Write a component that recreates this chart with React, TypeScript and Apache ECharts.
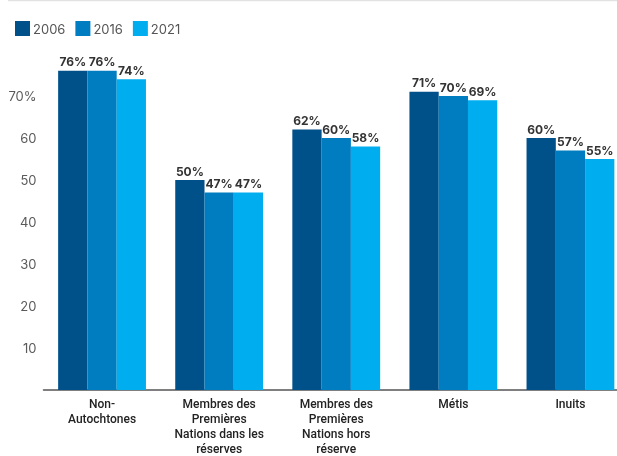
import React, { useEffect, useRef } from "react";
import * as echarts from "echarts";

const categories = [
  "Non-\nAutochtones",
  "Membres des\nPremières\nNations dans les\nréserves",
  "Membres des\nPremières\nNations hors\nréserve",
  "Métis",
  "Inuits",
];
const seriesNames = ["2006", "2016", "2021"];
const values2006 = [76, 50, 62, 71, 60];
const values2016 = [76, 47, 60, 70, 57];
const values2021 = [74, 47, 58, 69, 55];
const colors = ["#00508a", "#007cc0", "#00aeef"];
const yTicks = [0, 10, 20, 30, 40, 50, 60, 70, 80];

export default function App() {
  const ref = useRef<HTMLDivElement>(null);
  useEffect(() => {
    if (!ref.current) return;
    const chart = echarts.init(ref.current, null, { renderer: "svg" });
    const font = "Inter, 'Noto Sans', sans-serif";
    const font2 = "Roboto, 'Noto Sans', sans-serif";
    const data = [values2006, values2016, values2021];
    chart.setOption({
      animation: false,
      textStyle: { fontFamily: font },
      legend: {
        left: 10,
        top: 16,
        itemWidth: 15,
        itemHeight: 15,
        itemGap: 10,
        icon: "rect",
        textStyle: { color: "#555", fontSize: 13, fontFamily: font, padding: [0, 0, 0, -2] },
        data: seriesNames,
      },
      grid: { left: 43.5, right: 0, top: 54, bottom: 59, containLabel: false },
      xAxis: {
        type: "category",
        data: categories,
        axisLine: { lineStyle: { color: "#555", width: 1.5 } },
        axisTick: { show: false },
        axisLabel: {
          color: "#222",
          fontSize: 12,
          fontWeight: 500,
          lineHeight: 15,
          margin: 6,
          interval: 0,
          fontFamily: font2,
        },
      },
      yAxis: {
        type: "value",
        min: yTicks[0],
        max: yTicks[yTicks.length - 1],
        interval: 10,
        splitLine: { show: false },
        axisLine: { show: false },
        axisTick: { show: false },
        axisLabel: {
          color: "#5a5a5a",
          fontSize: 13,
          margin: 7,
          fontFamily: font,
          formatter: (v: number) => (v === 0 || v === 80 ? "" : v === 70 ? v + "%" : String(v)),
        },
      },
      graphic: [
        {
          type: "line",
          shape: { x1: 8, y1: 0.5, x2: 617, y2: 0.5 },
          style: { stroke: "#e2e2e2", lineWidth: 1.5 },
        },
      ],
      series: seriesNames.map((name, i) => ({
        name,
        type: "bar",
        data: data[i],
        barGap: "0%",
        barCategoryGap: "25%",
        itemStyle: { color: colors[i] },
        label: {
          show: true,
          position: "top",
          distance: 3,
          color: "#333",
          fontSize: 12,
          fontWeight: "bold",
          fontFamily: font,
          formatter: "{c}%",
        },
      })),
    });
    return () => chart.dispose();
  }, []);
  return (
    <div
      style={{
        position: "fixed",
        left: 0,
        top: 0,
        width: 617,
        height: 456,
        overflow: "hidden",
      }}
    >
      <div ref={ref} style={{ width: 629, height: 456 }} />
    </div>
  );
}
